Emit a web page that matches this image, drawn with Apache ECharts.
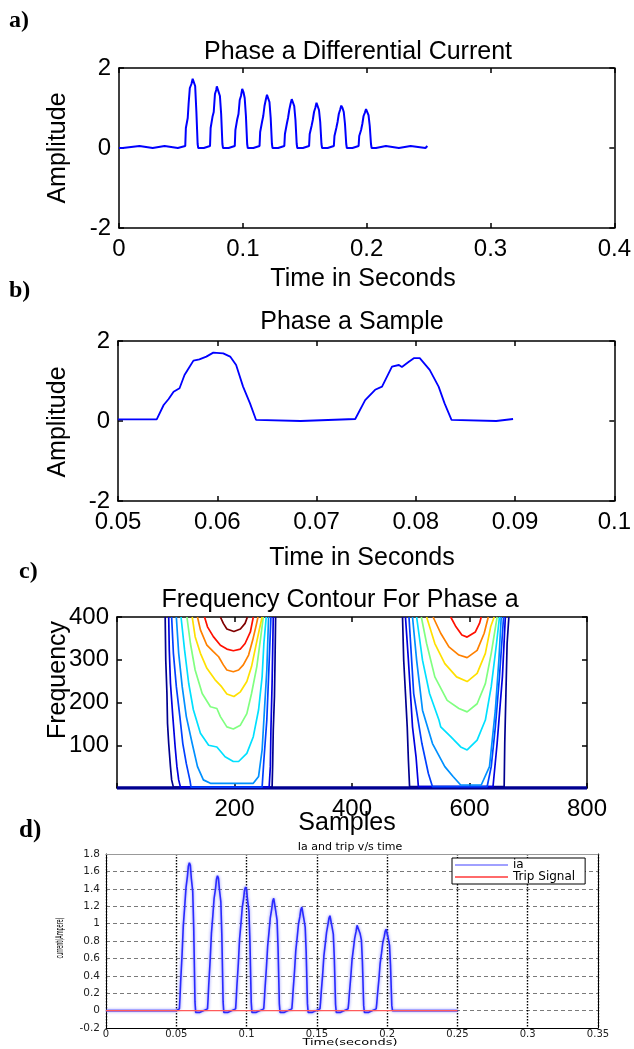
<!DOCTYPE html>
<html><head><meta charset="utf-8">
<script src="https://cdn.jsdelivr.net/npm/echarts@6.0.0/dist/echarts.min.js"></script>
<style>html,body{margin:0;padding:0;background:#fff}#chart{width:634px;height:1049px}</style>
</head><body><div id="chart"></div>
<script>
// ---------- Panel a: Phase a Differential Current ----------
const aXLabels = ['0', '0.1', '0.2', '0.3', '0.4'];
const aYLabels = ['-2', '0', '2'];
const diffCurrent = [
  [0,0],[0.003,0],[0.003,0.05],[0.0165,0.05],[0.0165,0],[0.0272,0],[0.0272,0.05],[0.0368,0.05],[0.0368,0],[0.0475,0],[0.0475,0.05],[0.0535,0.05],
  [0.054,0.5],[0.0555,0.75],[0.0562,1.1],[0.0572,1.5],[0.0585,1.6],[0.0595,1.73],[0.0605,1.68],[0.0615,1.55],[0.0625,0.9],[0.0635,0.1],[0.064,0],
  [0.0685,0],[0.0685,0.05],[0.0735,0.05],
  [0.074,0.5],[0.0755,0.78],[0.0765,0.9],[0.0775,1.35],[0.0785,1.45],[0.079,1.54],[0.0805,1.54],[0.0815,1.3],[0.0825,0.85],[0.0835,0.1],[0.084,0],
  [0.0885,0],[0.0885,0.05],[0.0935,0.05],
  [0.094,0.45],[0.0955,0.72],[0.0965,0.85],[0.0975,1.2],[0.0985,1.3],[0.0995,1.48],[0.1005,1.4],[0.1015,1.25],[0.1025,0.8],[0.1035,0.1],[0.104,0],
  [0.1085,0],[0.1085,0.05],[0.1135,0.05],
  [0.114,0.4],[0.1155,0.65],[0.1165,0.8],[0.1175,1.05],[0.1185,1.2],[0.1195,1.33],[0.1205,1.3],[0.1215,1.15],[0.1225,0.75],[0.1235,0.1],[0.124,0],
  [0.1285,0],[0.1285,0.05],[0.1335,0.05],
  [0.134,0.35],[0.1355,0.6],[0.1365,0.75],[0.1375,0.95],[0.1385,1.1],[0.1395,1.22],[0.1405,1.18],[0.1415,1.05],[0.1425,0.7],[0.1435,0.1],[0.144,0],
  [0.1485,0],[0.1485,0.05],[0.1535,0.05],
  [0.154,0.35],[0.1555,0.55],[0.1565,0.7],[0.1575,0.9],[0.1585,1.0],[0.1595,1.13],[0.1605,1.08],[0.1615,0.95],[0.1625,0.65],[0.1635,0.1],[0.164,0],
  [0.1685,0],[0.1685,0.05],[0.1735,0.05],
  [0.174,0.3],[0.1755,0.5],[0.1765,0.65],[0.1775,0.85],[0.1785,0.95],[0.1795,1.06],[0.1805,1.0],[0.1815,0.9],[0.1825,0.6],[0.1835,0.1],[0.184,0],
  [0.1885,0],[0.1885,0.05],[0.1935,0.05],
  [0.194,0.3],[0.1955,0.45],[0.1965,0.6],[0.1975,0.8],[0.1985,0.88],[0.1995,0.97],[0.2005,0.92],[0.2015,0.82],[0.2025,0.55],[0.2035,0.1],[0.204,0],
  [0.2075,0],[0.2075,0.05],[0.2155,0.05],[0.2155,0],[0.226,0],[0.226,0.05],[0.2355,0.05],[0.2355,0],[0.2475,0],[0.249,0.05]
];

// ---------- Panel b: Phase a Sample ----------
const bXLabels = ['0.05', '0.06', '0.07', '0.08', '0.09', '0.1'];
const bYLabels = ['-2', '0', '2'];
const phaseSample = [
  [0.05,0.04],[0.0539,0.04],[0.0546,0.4],[0.0551,0.55],[0.0556,0.73],[0.0562,0.82],[0.0567,1.15],[0.0572,1.35],[0.0576,1.51],[0.0582,1.54],
  [0.0589,1.61],[0.0596,1.71],[0.0606,1.69],[0.0613,1.61],[0.0619,1.4],[0.0626,0.86],[0.0633,0.44],[0.0639,0.03],[0.0641,0],
  [0.0684,0],[0.0684,0.05],[0.0739,0.05],
  [0.0749,0.52],[0.0759,0.78],[0.0766,0.86],[0.0776,1.36],[0.0783,1.4],[0.0786,1.35],[0.0793,1.48],[0.0798,1.57],[0.0804,1.57],
  [0.0814,1.28],[0.0823,0.86],[0.0829,0.44],[0.0836,0.03],[0.0838,0],
  [0.0881,0],[0.0881,0.05],[0.0898,0.05]
];

// ---------- Panel c: Frequency Contour ----------
const cXLabels = ['', '200', '400', '600', '800'];
const cYLabels = ['', '100', '200', '300', '400'];
const contourColors = ['#000090','#0000E0','#0040FF','#0090FF','#00E0FF','#80FF80','#FFE000','#FF8000','#FF1000','#800000'];
const leftContours = [
  [[82,400],[83,299],[85,221],[86,151],[88,104],[91,50],[93,19],[96,2],[264,2],[265,57],[266,136],[268,214],[269,299],[270,400]],
  [[88,400],[89,323],[91,245],[95,167],[99,96],[102,50],[105,19],[108,2],[259,2],[261,50],[262,136],[264,245],[266,400]],
  [[93,400],[96,315],[101,237],[107,167],[112,104],[118,57],[124,19],[126,2],[247,2],[250,65],[255,159],[258,260],[262,400]],
  [[101,400],[105,315],[111,237],[118,167],[128,104],[137,50],[147,19],[159,11],[232,11],[241,27],[247,89],[251,183],[255,276],[258,400]],
  [[109,400],[115,323],[122,245],[130,183],[142,128],[156,100],[170,96],[184,73],[198,62],[207,62],[221,81],[232,120],[241,183],[247,260],[250,338],[254,400]],
  [[119,400],[125,338],[133,276],[145,221],[159,190],[170,186],[176,167],[187,143],[198,138],[210,147],[221,174],[229,221],[238,284],[244,346],[249,400]],
  [[128,400],[133,354],[142,315],[153,280],[167,253],[178,237],[187,220],[199,214],[210,225],[221,249],[229,284],[236,330],[242,369],[247,400]],
  [[137,400],[142,370],[153,334],[164,319],[173,307],[181,288],[187,276],[198,272],[207,276],[215,288],[224,311],[231,346],[237,381],[240,400]],
  [[149,400],[154,377],[164,354],[176,334],[187,325],[198,321],[210,325],[218,338],[227,365],[232,400]],
  [[176,400],[181,385],[187,372],[199,366],[210,372],[218,385],[222,400]]
];
const rightContours = [
  [[486,400],[488,299],[491,221],[494,143],[496,65],[498,3],[659,3],[660,104],[662,221],[664,338],[667,400]],
  [[491,400],[496,299],[503,143],[509,73],[513,3],[640,3],[647,104],[656,260],[661,400]],
  [[497,400],[505,221],[519,104],[530,34],[537,3],[630,3],[637,50],[644,143],[651,260],[658,400]],
  [[503,400],[510,299],[520,182],[537,104],[558,50],[572,27],[585,7],[620,7],[634,50],[644,182],[650,299],[654,400]],
  [[510,400],[520,299],[532,221],[548,159],[551,143],[568,120],[585,96],[596,89],[613,112],[627,159],[637,237],[646,338],[651,400]],
  [[518,400],[527,338],[541,260],[562,205],[582,186],[596,178],[613,197],[627,244],[637,315],[647,400]],
  [[527,400],[541,338],[558,291],[578,260],[596,249],[613,268],[627,315],[636,377],[642,400]],
  [[538,400],[551,362],[565,330],[582,311],[596,305],[613,322],[625,362],[632,400]],
  [[568,400],[577,377],[587,358],[596,353],[610,365],[617,385],[620,400]]
];
const contourBase = [[0,0],[800,0]];

// ---------- Panel d: Ia and trip v/s time ----------
const dXLabels = ['0','0.05','0.1','0.15','0.2','0.25','0.3','0.35'];
const dYLabels = ['-0.2','0','0.2','0.4','0.6','0.8','1','1.2','1.4','1.6','1.8'];
const iaCurrent = [
  [0,0],[0.0498,0],[0.0498,0.015],[0.0522,0.02],
  [0.0526,0.14],[0.0531,0.33],[0.0541,0.64],[0.055,0.98],[0.056,1.2],[0.0569,1.41],[0.0579,1.54],[0.0586,1.66],[0.0593,1.7],[0.06,1.67],[0.0607,1.52],[0.0617,1.37],[0.0624,0.95],[0.0633,0.1],[0.0638,-0.02],
  [0.0669,-0.02],[0.068,0],[0.0722,0.02],
  [0.0726,0.13],[0.0731,0.3],[0.0741,0.58],[0.075,0.89],[0.076,1.09],[0.0769,1.29],[0.0779,1.4],[0.0786,1.51],[0.0793,1.55],[0.08,1.52],[0.0807,1.39],[0.0817,1.25],[0.0824,0.87],[0.0833,0.1],[0.0838,-0.02],
  [0.0869,-0.02],[0.088,0],[0.0922,0.02],
  [0.0926,0.12],[0.0931,0.28],[0.0941,0.53],[0.095,0.82],[0.096,1.0],[0.0969,1.18],[0.0979,1.29],[0.0986,1.39],[0.0993,1.42],[0.1,1.39],[0.1007,1.27],[0.1017,1.14],[0.1024,0.79],[0.1033,0.1],[0.1038,-0.02],
  [0.1069,-0.02],[0.108,0],[0.1122,0.02],
  [0.1126,0.11],[0.1131,0.25],[0.1141,0.49],[0.115,0.74],[0.116,0.91],[0.1169,1.07],[0.1179,1.17],[0.1186,1.26],[0.1193,1.29],[0.12,1.27],[0.1207,1.15],[0.1217,1.04],[0.1224,0.72],[0.1233,0.08],[0.1238,-0.02],
  [0.1269,-0.02],[0.128,0],[0.1322,0.02],
  [0.1326,0.1],[0.1331,0.23],[0.1341,0.45],[0.135,0.69],[0.136,0.84],[0.1369,0.99],[0.1379,1.08],[0.1386,1.16],[0.1393,1.19],[0.14,1.17],[0.1407,1.06],[0.1417,0.96],[0.1424,0.67],[0.1433,0.08],[0.1438,-0.02],
  [0.1469,-0.02],[0.148,0],[0.1522,0.02],
  [0.1526,0.09],[0.1531,0.21],[0.1541,0.41],[0.155,0.63],[0.156,0.77],[0.1569,0.9],[0.1579,0.99],[0.1586,1.06],[0.1593,1.09],[0.16,1.07],[0.1607,0.97],[0.1617,0.88],[0.1624,0.61],[0.1633,0.07],[0.1638,-0.02],
  [0.1669,-0.02],[0.168,0],[0.1722,0.02],
  [0.1726,0.08],[0.1731,0.19],[0.1741,0.38],[0.175,0.58],[0.176,0.71],[0.1769,0.83],[0.1779,0.91],[0.1786,0.98],[0.1793,1.0],[0.18,0.98],[0.1807,0.89],[0.1817,0.81],[0.1824,0.56],[0.1833,0.06],[0.1838,-0.02],
  [0.1869,-0.02],[0.188,0],[0.1922,0.02],
  [0.1926,0.08],[0.1931,0.18],[0.1941,0.35],[0.195,0.54],[0.196,0.66],[0.1969,0.78],[0.1979,0.85],[0.1986,0.91],[0.1993,0.935],[0.2,0.92],[0.2007,0.84],[0.2017,0.75],[0.2024,0.52],[0.2033,0.06],[0.2038,0],
  [0.25,0]
];
const tripSignal = [[0,0],[0.25,0]];

// ---------- helpers ----------
const FONT = 'Liberation Sans';
const fmt = (labels, min, step) => (v) => { const s = labels[Math.round((v - min) / step)]; return s === undefined ? '' : s; };
const blackLine = {show: true, onZero: false, lineStyle: {color: '#000', width: 1.5}};
const inTick = {show: true, inside: true, length: 5, lineStyle: {color: '#000', width: 1.5}};

function boxX(grid, min, max, step, labels) {
  return [
    {gridIndex: grid, type: 'value', min, max, interval: step, position: 'bottom',
     axisLine: blackLine, axisTick: inTick, splitLine: {show: false},
     axisLabel: {margin: 9, fontSize: 24, fontFamily: FONT, color: '#000', formatter: fmt(labels, min, step)}},
    {gridIndex: grid, type: 'value', min, max, interval: step, position: 'top',
     axisLine: blackLine, axisTick: inTick, splitLine: {show: false}, axisLabel: {show: false}}
  ];
}
function boxY(grid, min, max, step, labels) {
  return [
    {gridIndex: grid, type: 'value', min, max, interval: step, position: 'left',
     axisLine: blackLine, axisTick: inTick, splitLine: {show: false},
     axisLabel: {margin: 8, fontSize: 24, fontFamily: FONT, color: '#000', formatter: fmt(labels, min, step)}},
    {gridIndex: grid, type: 'value', min, max, interval: step, position: 'right',
     axisLine: blackLine, axisTick: inTick, splitLine: {show: false}, axisLabel: {show: false}}
  ];
}

const xAxes = [].concat(
  boxX(0, 0, 0.4, 0.1, aXLabels),
  boxX(1, 0.05, 0.1, 0.01, bXLabels),
  boxX(2, 0, 800, 200, cXLabels),
  [
    {gridIndex: 3, type: 'value', min: 0, max: 0.35, interval: 0.05, position: 'bottom',
     axisLine: {show: true, onZero: false, lineStyle: {color: '#000', width: 1}},
     axisTick: {show: false},
     axisLabel: {margin: 1, fontSize: 10, fontFamily: 'DejaVu Sans', color: '#222', formatter: fmt(dXLabels, 0, 0.05)},
     splitLine: {show: true, lineStyle: {color: '#000', width: 1.4, type: [1.5, 1.5]}}},
    {gridIndex: 3, type: 'value', min: 0, max: 0.35, interval: 0.05, position: 'top',
     axisLine: {show: true, onZero: false, lineStyle: {color: '#999', width: 1}},
     axisTick: {show: false}, axisLabel: {show: false}, splitLine: {show: false}}
  ]
);
const yAxes = [].concat(
  boxY(0, -2, 2, 2, aYLabels),
  boxY(1, -2, 2, 2, bYLabels),
  boxY(2, 0, 400, 100, cYLabels),
  [
    {gridIndex: 3, type: 'value', min: -0.2, max: 1.8, interval: 0.2, position: 'left',
     axisLine: {show: true, onZero: false, lineStyle: {color: '#000', width: 1}},
     axisTick: {show: false},
     axisLabel: {margin: 6, fontSize: 10.5, fontFamily: 'DejaVu Sans', color: '#222', formatter: fmt(dYLabels, -0.2, 0.2)},
     splitLine: {show: true, lineStyle: {color: '#7a7a7a', width: 1, type: [4, 3]}}},
    {gridIndex: 3, type: 'value', min: -0.2, max: 1.8, interval: 0.2, position: 'right',
     axisLine: {show: true, onZero: false, lineStyle: {color: '#000', width: 1}},
     axisTick: {show: false}, axisLabel: {show: false}, splitLine: {show: false}}
  ]
);

const series = [];
series.push({type: 'line', xAxisIndex: 0, yAxisIndex: 0, data: diffCurrent, symbol: 'none', silent: true,
  lineStyle: {color: '#0000FF', width: 2}});
series.push({type: 'line', xAxisIndex: 2, yAxisIndex: 2, data: phaseSample, symbol: 'none', silent: true,
  lineStyle: {color: '#0000FF', width: 1.8}});
series.push({type: 'line', xAxisIndex: 4, yAxisIndex: 4, data: contourBase, symbol: 'none', silent: true,
  lineStyle: {color: '#000090', width: 3.5}});
leftContours.forEach((c, i) => series.push({type: 'line', xAxisIndex: 4, yAxisIndex: 4, data: c, symbol: 'none', silent: true,
  lineStyle: {color: contourColors[i], width: 1.7}}));
rightContours.forEach((c, i) => series.push({type: 'line', xAxisIndex: 4, yAxisIndex: 4, data: c, symbol: 'none', silent: true,
  lineStyle: {color: contourColors[i], width: 1.7}}));
series.push({name: 'ia', type: 'line', xAxisIndex: 6, yAxisIndex: 6, data: iaCurrent, symbol: 'none', silent: true,
  lineStyle: {color: '#2a2aff', width: 1.6, shadowColor: 'rgba(110,110,255,0.9)', shadowBlur: 3}});
series.push({name: 'Trip Signal', type: 'line', xAxisIndex: 6, yAxisIndex: 6, data: tripSignal, symbol: 'none', silent: true,
  lineStyle: {color: '#ff5a5a', width: 1.4}});

function txt(text, x, y, size, opts) {
  const o = opts || {};
  return {type: 'text', x, y, rotation: o.rot || 0, scaleX: o.sx || 1, scaleY: o.sy || 1, silent: true, z: 10,
    style: {text, fontSize: size, fontFamily: o.family || FONT, fontWeight: o.weight || 'normal', fill: '#000',
      align: o.align || 'center', verticalAlign: 'middle', textAlign: o.align || 'center', textVerticalAlign: 'middle'}};
}

const graphics = [
  txt('a)', 9, 21, 24, {align: 'left', family: 'Liberation Serif', weight: 'bold'}),
  txt('b)', 9, 291, 24, {align: 'left', family: 'Liberation Serif', weight: 'bold'}),
  txt('c)', 19, 572, 24, {align: 'left', family: 'Liberation Serif', weight: 'bold'}),
  txt('d)', 19, 831, 25, {align: 'left', family: 'Liberation Serif', weight: 'bold'}),
  txt('Phase a Differential Current', 358, 52, 25),
  txt('Time in Seconds', 363, 279, 25),
  txt('Amplitude', 58, 148, 25, {rot: Math.PI / 2}),
  txt('Phase a Sample', 352, 322, 25),
  txt('Time in Seconds', 362, 558, 25),
  txt('Amplitude', 58, 422, 25, {rot: Math.PI / 2}),
  txt('Frequency Contour For Phase a', 340, 600, 25),
  txt('Samples', 347, 823, 25),
  txt('Frequency', 58, 680, 25, {rot: Math.PI / 2}),
  txt('Ia and trip v/s time', 350, 847, 10, {family: 'DejaVu Sans', sx: 1.1}),
  txt('Time(seconds)', 350, 1043, 10, {family: 'DejaVu Sans', sx: 1.3, sy: 0.85}),
  txt('current(Ampere)', 60, 938, 11, {family: 'DejaVu Sans', rot: Math.PI / 2, sx: 0.45})
];

const chart = echarts.init(document.getElementById('chart'), null, {renderer: 'canvas'});
chart.setOption({
  animation: false,
  backgroundColor: '#fff',
  grid: [
    {left: 119, top: 68, width: 497, height: 160},
    {left: 118, top: 341, width: 499, height: 160},
    {left: 117, top: 617, width: 470, height: 171},
    {left: 106, top: 854, width: 492, height: 174}
  ],
  xAxis: xAxes,
  yAxis: yAxes,
  legend: {
    show: true, selectedMode: false, left: 452, top: 858, orient: 'vertical',
    itemGap: 0, itemWidth: 53, itemHeight: 2, padding: [1, 10, 1, 3],
    borderColor: '#000', borderWidth: 1, backgroundColor: '#fff',
    textStyle: {fontSize: 12, fontFamily: 'DejaVu Sans', color: '#000', lineHeight: 10},
    data: [
      {name: 'ia', icon: 'rect', itemStyle: {color: '#a0a0ff'}},
      {name: 'Trip Signal', icon: 'rect', itemStyle: {color: '#ff6a6a'}}
    ]
  },
  graphic: graphics,
  series
});
</script></body></html>
